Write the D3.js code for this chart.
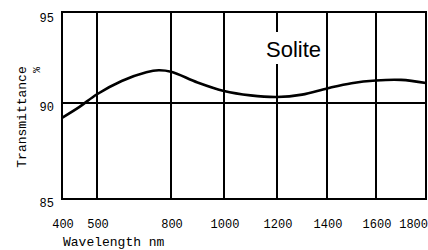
<html>
<head>
<script src="https://cdn.jsdelivr.net/npm/d3@7"></script>
<style>
  body { margin: 0; background: #fff; }
</style>
</head>
<body>
<svg></svg>
<script>
  // values
  const wavelengths = [400, 450, 500, 600, 700, 750, 800, 900, 1000, 1100, 1200, 1300, 1400, 1500, 1600, 1700, 1800];
  const transmittance = [89.23, 89.80, 90.48, 91.21, 91.69, 91.80, 91.72, 91.13, 90.66, 90.42, 90.33, 90.46, 90.80, 91.09, 91.24, 91.27, 91.10];
  const xTicks = [400, 500, 800, 1000, 1200, 1400, 1600, 1800];
  const yTicks = [85, 90, 95];
  const seriesName = "Solite";

  const width = 428;
  const height = 250;
  const data = wavelengths.map(function(w, i) { return { w: w, t: transmittance[i] }; });

  const svg = d3.select("svg").attr("width", width).attr("height", height);

  // the original axis is not evenly spaced, so use a piecewise scale
  const x = d3.scaleLinear().domain(xTicks).range([62, 97, 171, 224, 277, 327, 376, 426]);
  const y = d3.scaleLinear().domain([85, 90, 95]).range([199, 103, 12]);

  const mono = "'Liberation Mono', 'DejaVu Sans Mono', monospace";

  // vertical grid lines (first and last are the frame)
  svg.append("g").selectAll("line").data(xTicks).enter().append("line")
    .attr("x1", function(d) { return x(d); })
    .attr("x2", function(d) { return x(d); })
    .attr("y1", y(95))
    .attr("y2", y(85))
    .attr("stroke", "#000")
    .attr("stroke-width", 2);

  // horizontal lines: top, 90, bottom
  svg.append("g").selectAll("line").data(yTicks).enter().append("line")
    .attr("x1", x(400) - 1)
    .attr("x2", x(1800) + 1)
    .attr("y1", function(d) { return y(d); })
    .attr("y2", function(d) { return y(d); })
    .attr("stroke", "#000")
    .attr("stroke-width", 2);

  // curve
  const line = d3.line()
    .x(function(d) { return x(d.w); })
    .y(function(d) { return y(d.t); })
    .curve(d3.curveCatmullRom.alpha(0.5));

  svg.append("path")
    .datum(data)
    .attr("fill", "none")
    .attr("stroke", "#000")
    .attr("stroke-width", 2.6)
    .attr("d", line);

  // series label on a white patch
  svg.append("rect")
    .attr("x", x(1200) - 13)
    .attr("y", 32)
    .attr("width", 60)
    .attr("height", 32)
    .attr("fill", "#fff");
  svg.append("text")
    .attr("x", x(1200) - 11)
    .attr("y", 56.5)
    .style("font-family", "'Liberation Sans', Arial, sans-serif")
    .style("font-size", "22px")
    .text(seriesName);

  // x tick labels
  svg.append("g").selectAll("text").data(xTicks).enter().append("text")
    .attr("x", function(d, i) { return i === xTicks.length - 1 ? width : x(d) + 1; })
    .attr("y", 228)
    .attr("text-anchor", function(d, i) { return i === xTicks.length - 1 ? "end" : "middle"; })
    .style("font-family", mono)
    .style("font-size", "12px")
    .text(function(d) { return d; });

  // y tick labels
  svg.append("g").selectAll("text").data(yTicks).enter().append("text")
    .attr("x", 54)
    .attr("y", function(d) { return y(d) + (d === 95 ? 10 : 8); })
    .attr("text-anchor", "end")
    .style("font-family", mono)
    .style("font-size", "12px")
    .text(function(d) { return d; });

  // axis titles
  svg.append("text")
    .attr("x", 63)
    .attr("y", 246)
    .style("font-family", mono)
    .style("font-size", "13px")
    .text("Wavelength nm");

  svg.append("text")
    .attr("transform", "translate(25.5,117) rotate(-90)")
    .attr("text-anchor", "middle")
    .style("font-family", mono)
    .style("font-size", "13px")
    .text("Transmittance");

  svg.append("text")
    .attr("transform", "translate(40,70) rotate(-90)")
    .attr("text-anchor", "middle")
    .style("font-family", mono)
    .style("font-size", "10px")
    .text("%");
</script>
</body>
</html>
